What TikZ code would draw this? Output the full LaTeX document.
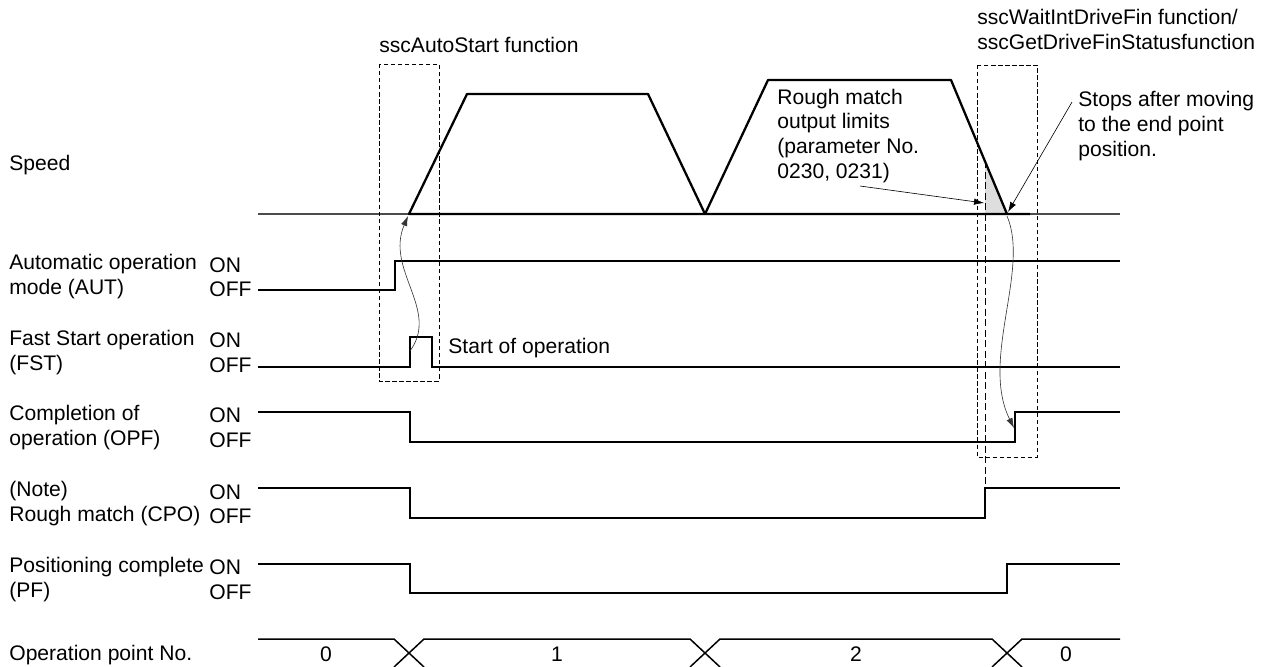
\documentclass[tikz,border=0pt]{standalone}
\usepackage{fontspec}
\setmainfont{Liberation Sans}
\usetikzlibrary{arrows.meta}
\tikzset{
  lbl/.style={font=\fontsize{12pt}{14.2pt}\selectfont, inner sep=0pt, align=left, anchor=west},
  sig/.style={line width=0.85pt, line join=miter},
  spd/.style={line width=1.3pt, line join=round},
  dashbox/.style={line width=0.45pt, dash pattern=on 2.5pt off 1.5pt},
  arr/.style={-{Latex[length=2mm,width=1.3mm]}, line width=0.35pt},
}

\begin{document}
\begin{tikzpicture}[x=0.02cm, y=-0.02cm]
  \useasboundingbox (0,0) rectangle (1266,666);
  % left column: signal names and ON/OFF levels
  \node[lbl] (lblspeed) at (9,165) {Speed};
  \foreach \nm/\txt/\yon/\yoff in {aut/{Automatic operation\\mode (AUT)}/265/289,
      fst/{Fast Start operation\\(FST)}/340/365,
      opf/{Completion of\\operation (OPF)}/415/440,
      cpo/{(Note)\\Rough match (CPO)}/492/516,
      pf/{Positioning complete\\(PF)}/567/592} {
    \node[lbl] (lbl\nm) at (9,{(\yon+\yoff)/2}) {\txt};
    \node[lbl] (on\nm) at (209,\yon) {ON};
    \node[lbl] (off\nm) at (209,\yoff) {OFF};
  }
  \node[lbl] (lblopno) at (9,655) {Operation point No.};
  % speed profile
  \fill[black!13] (985,161) -- (985,214) -- (1007,214) -- cycle;
  \draw[line width=0.7pt, black!70] (258,214) -- (1120,214);
  \draw[spd] (1030,214) -- (409,214) -- (467,94) -- (648,94) -- (705,214)
    -- (768,80) -- (951,80) -- (1007,214);
  % signals
  \draw[sig] (258,290) -- (395,290) -- (395,261) -- (1120,261);
  \draw[sig] (258,367) -- (410,367) -- (410,337) -- (432,337) -- (432,367) -- (1120,367);
  \draw[sig] (258,412) -- (410,412) -- (410,442) -- (1015,442) -- (1015,412) -- (1120,412);
  \draw[sig] (258,488) -- (410,488) -- (410,518) -- (985,518) -- (985,488) -- (1120,488);
  \draw[sig] (258,564) -- (410,564) -- (410,593) -- (1007,593) -- (1007,564) -- (1120,564);
  % operation point bus
  \draw[sig] (258,639) -- (394,639) -- (424,667);
  \draw[sig] (394,667) -- (424,639) -- (690,639) -- (720,667);
  \draw[sig] (690,667) -- (720,639) -- (992,639) -- (1022,667);
  \draw[sig] (992,667) -- (1022,639) -- (1120,639);
  \node[lbl, anchor=center] (pt0) at (326,654) {0};
  \node[lbl, anchor=center] (pt1) at (557,654) {1};
  \node[lbl, anchor=center] (pt2) at (856,654) {2};
  \node[lbl, anchor=center] (pt3) at (1066,654) {0};
  % function windows
  \draw[dashbox] (379,64) rectangle (439,381);
  \draw[dashbox] (977,65) rectangle (1037,457);
  \draw[line width=0.5pt, dash pattern=on 4pt off 2pt] (985,161) -- (985,488);
  \node[lbl] (fnstart) at (379,45) {sscAutoStart function};
  \node[lbl] (fnwait) at (977,29) {sscWaitIntDriveFin function/\\sscGetDriveFinStatusfunction};
  % notes
  \node[lbl] (startop) at (448,348) {Start of operation};
  \node[lbl] (rmnote) at (777,136) {Rough match\\output limits\\(parameter No.\\0230, 0231)};
  \node[lbl] (stopnote) at (1078,126) {Stops after moving\\to the end point\\position.};
  \coordinate (rmtail) at (860,186);
  \coordinate (rmtip) at (984,203);
  \coordinate (stoptail) at (1072,102);
  \coordinate (stoptip) at (1008,212);
  \coordinate (fstup) at (410,351);
  \coordinate (spdstart) at (408,216);
  \coordinate (spdstop) at (1007,216);
  \coordinate (opfup) at (1014,428);
  \draw[arr] (rmtail) -- (rmtip);
  \draw[arr] (stoptail) -- (stoptip);
  \draw[arr, black!80] (fstup) .. controls (440,310) and (385,270) .. (spdstart);
  \draw[arr, black!80] (spdstop) .. controls (1030,270) and (980,360) .. (opfup);
\end{tikzpicture}
\end{document}
